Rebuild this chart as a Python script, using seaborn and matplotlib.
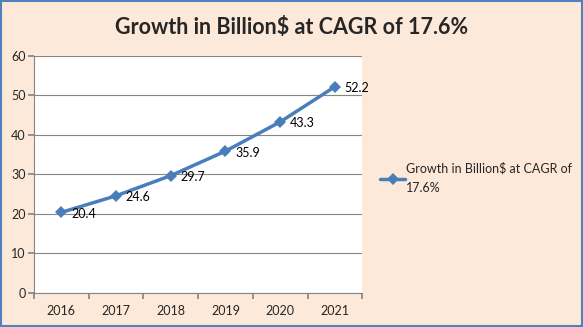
import matplotlib
matplotlib.use("Agg")
import matplotlib.pyplot as plt
import seaborn as sns
import pandas as pd
from matplotlib.patches import Rectangle

years = ["2016", "2017", "2018", "2019", "2020", "2021"]
values = [20.4, 24.6, 29.7, 35.9, 43.3, 52.2]
series_name = "Growth in Billion$ at CAGR of 17.6%"
title = "Growth in Billion$ at CAGR of 17.6%"
yticks = [0, 10, 20, 30, 40, 50, 60]

sns.set_theme(style="white")
plt.rcParams['font.family'] = ['Lato', 'DejaVu Sans']

bg = "#FDE9D9"
line_color = "#4A7EBB"

df = pd.DataFrame({"idx": range(len(years)), "value": values, "series": series_name})

fig = plt.figure(figsize=(5.83, 3.27), dpi=100, facecolor=bg)
ax = fig.add_axes([0.0583, 0.104, 0.563, 0.725])
ax.set_facecolor("white")

sns.lineplot(data=df, x="idx", y="value", hue="series", palette=[line_color],
             marker="D", markersize=6, linewidth=2.5, markeredgewidth=0,
             ax=ax, legend=True)

for i, v in enumerate(values):
    ax.annotate(f"{v}", (i, v), xytext=(7, -1), textcoords="offset points",
                fontsize=9, ha="left", va="center", color="black")

ax.set_xlim(-0.5, len(years) - 0.5)
ax.set_ylim(0, 60)
ax.set_yticks(yticks)
ax.set_yticklabels([str(t) for t in yticks], fontsize=9)
ax.yaxis.grid(True, color="#868686", linewidth=0.8)
ax.set_axisbelow(True)

ax.set_xticks([i - 0.5 for i in range(len(years) + 1)])
ax.set_xticklabels([""] * (len(years) + 1))
ax.set_xticks(range(len(years)), minor=True)
ax.set_xticklabels(years, minor=True, fontsize=9)
ax.tick_params(axis="x", which="major", direction="out", length=4, color="#868686", bottom=True)
ax.tick_params(axis="x", which="minor", length=0, pad=9, bottom=True)
ax.tick_params(axis="y", direction="out", length=4, color="#868686", left=True, pad=2)

for s in ["top", "right"]:
    ax.spines[s].set_visible(False)
for s in ["left", "bottom"]:
    ax.spines[s].set_color("#868686")
    ax.spines[s].set_linewidth(0.8)

ax.set_xlabel("")
ax.set_ylabel("")

handles, labels = ax.get_legend_handles_labels()
leg = ax.legend(handles, ["Growth in Billion$ at CAGR of\n17.6%"], loc="center left",
                bbox_to_anchor=(0.652, 0.455), bbox_transform=fig.transFigure,
                frameon=False, fontsize=9, handlelength=2.0, handletextpad=0.1,
                borderpad=0, borderaxespad=0, labelspacing=0.2)
for t in leg.get_texts():
    t.set_linespacing(1.7)

fig.text(0.5, 0.915, title, ha="center", va="center", fontsize=15.5, fontweight="bold")

fig.patches.append(Rectangle((0.002, 0.003), 0.996, 0.994, transform=fig.transFigure,
                             fill=False, edgecolor="#4F81BD", linewidth=1.5))

fig.savefig("out.png", dpi=100, facecolor=bg)
